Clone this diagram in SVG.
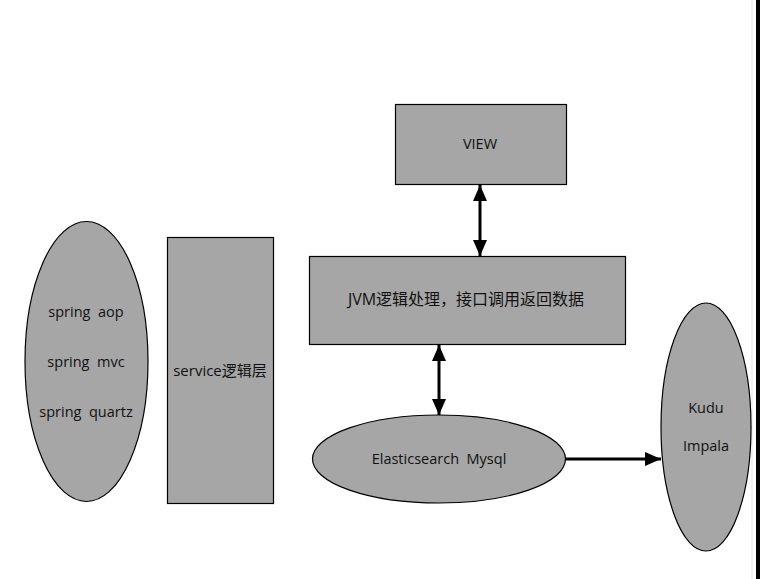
<svg xmlns="http://www.w3.org/2000/svg" width="760" height="579" viewBox="0 0 760 579">
<style>
.shape{fill:#a6a6a6;stroke:#000;stroke-width:1.2}
.lbl{font-family:"Open Sans","Noto Sans CJK SC",sans-serif;font-size:14.5px;fill:#111;text-anchor:middle;white-space:pre}
.conn{stroke:#000;stroke-width:3;fill:none}
</style>
<defs>
<marker id="ah" viewBox="0 0 16 14" refX="16" refY="7" markerWidth="16" markerHeight="14" markerUnits="userSpaceOnUse" orient="auto-start-reverse">
<path d="M0,0 L16,7 L0,14 Z" fill="#000"/>
</marker>
</defs>
<rect x="0" y="0" width="760" height="579" fill="#fff"/>
<line x1="752" y1="0" x2="752" y2="579" stroke="#e2e2e2" stroke-width="1"/>
<rect x="756" y="0" width="4" height="579" fill="#000"/>
<g id="view">
<rect class="shape" x="395.5" y="104.5" width="171" height="80"/>
<text class="lbl" x="480" y="149">VIEW</text>
</g>
<g id="jvm">
<rect class="shape" x="309.5" y="256.5" width="316" height="88"/>
<text class="lbl" x="466" y="305" style="font-size:16px">JVM逻辑处理，接口调用返回数据</text>
</g>
<g id="spring">
<ellipse class="shape" cx="86.5" cy="361.5" rx="61.5" ry="140"/>
<text class="lbl" x="86" y="317" xml:space="preserve">spring  aop</text>
<text class="lbl" x="86" y="367" xml:space="preserve">spring  mvc</text>
<text class="lbl" x="86" y="417" xml:space="preserve">spring  quartz</text>
</g>
<g id="service">
<rect class="shape" x="167.5" y="237.5" width="106" height="266"/>
<text class="lbl" x="220" y="376" style="font-size:15px">service逻辑层</text>
</g>
<g id="es">
<ellipse class="shape" cx="439" cy="459" rx="126.5" ry="44"/>
<text class="lbl" x="439" y="464" xml:space="preserve">Elasticsearch  Mysql</text>
</g>
<g id="kudu">
<ellipse class="shape" cx="706" cy="427" rx="45" ry="124"/>
<text class="lbl" x="706" y="413">Kudu</text>
<text class="lbl" x="706" y="451">Impala</text>
</g>
<g id="connectors">
<line class="conn" x1="480" y1="185" x2="480" y2="256" marker-start="url(#ah)" marker-end="url(#ah)"/>
<line class="conn" x1="439" y1="345" x2="439" y2="415" marker-start="url(#ah)" marker-end="url(#ah)"/>
<line class="conn" x1="566" y1="459" x2="661" y2="459" marker-end="url(#ah)"/>
</g>
</svg>
